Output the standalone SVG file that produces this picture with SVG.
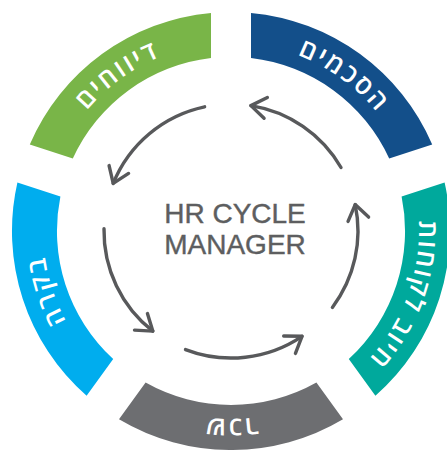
<svg xmlns="http://www.w3.org/2000/svg" width="447" height="450" viewBox="0 0 447 450">
  <defs>
    <style>
      .seg-label { font-family: "Open Sans", "DejaVu Sans", "Liberation Sans", sans-serif; font-size: 26px; font-weight: 600; fill: #ffffff; letter-spacing: 2.5px; }
      .center-text { font-family: "Liberation Sans", Arial, sans-serif; font-size: 28px; fill: #5d5e60; stroke: #5d5e60; stroke-width: 0.4; text-anchor: middle; }
      .arrow { fill: none; stroke: #58595b; stroke-width: 3.4; stroke-linecap: round; marker-end: url(#chev); }
    </style>
    <marker id="chev" markerUnits="userSpaceOnUse" markerWidth="40" markerHeight="40" refX="0" refY="0" orient="auto" overflow="visible" viewBox="-20 -20 40 40">
      <path d="M -15 -10.5 L 0 0 L -15 10.5" fill="none" stroke="#58595b" stroke-width="3.4" stroke-linecap="round" stroke-linejoin="round"/>
    </marker>
    <path id="p-gray" d="M 351.8 375.0 A 188 188 0 0 1 110.2 375.0"/>
    <path id="p-cyan" d="M 131.4 390.4 A 188 188 0 0 1 56.7 160.6"/>
    <path id="p-green" d="M 48.6 185.5 A 188 188 0 0 1 244.1 43.5"/>
    <path id="p-blue" d="M 217.9 43.5 A 188 188 0 0 1 413.4 185.5"/>
    <path id="p-teal" d="M 405.3 160.6 A 188 188 0 0 1 330.6 390.4"/>
  </defs>

  <g id="node-agreements">
    <path d="M 251.0 12.9 A 219 219 0 0 1 432.2 144.6 L 389.2 158.6 A 174 174 0 0 0 251.0 58.1 Z" fill="#134f8a"/>
    <text class="seg-label"><textPath href="#p-blue" startOffset="50%" text-anchor="middle">הסכמים</textPath></text>
  </g>
  <g id="node-reports">
    <path d="M 29.8 144.6 A 219 219 0 0 1 211.0 12.9 L 211.0 58.1 A 174 174 0 0 0 72.8 158.6 Z" fill="#79b548"/>
    <text class="seg-label"><textPath href="#p-green" startOffset="50%" text-anchor="middle">דיווחים</textPath></text>
  </g>
  <g id="node-control">
    <path d="M 86.6 395.7 A 219 219 0 0 1 17.4 182.6 L 60.4 196.6 A 174 174 0 0 0 113.2 359.1 Z" fill="#00adee"/>
    <text class="seg-label"><textPath href="#p-cyan" startOffset="50%" text-anchor="middle">בקרה</textPath></text>
  </g>
  <g id="node-payroll">
    <path d="M 343.0 419.2 A 219 219 0 0 1 119.0 419.2 L 145.6 382.6 A 174 174 0 0 0 316.4 382.6 Z" fill="#6d6e71"/>
    <text class="seg-label"><textPath href="#p-gray" startOffset="50%" text-anchor="middle">שכר</textPath></text>
  </g>
  <g id="node-billing">
    <path d="M 444.6 182.6 A 219 219 0 0 1 375.4 395.7 L 348.8 359.1 A 174 174 0 0 0 401.6 196.6 Z" fill="#00a99c"/>
    <text class="seg-label" style="letter-spacing:2px"><textPath href="#p-teal" startOffset="138" text-anchor="middle">חיוב לקוחות</textPath></text>
  </g>

  <g id="center">
    <text class="center-text" x="235" y="223">HR CYCLE</text>
    <text class="center-text" x="235" y="254">MANAGER</text>
  </g>

  <g id="connectors">
    <path class="arrow" d="M 204.6 106.8 A 127 127 0 0 0 113.2 183.4"/>
    <path class="arrow" d="M 341.0 167.5 A 127 127 0 0 0 250.9 105.6"/>
    <path class="arrow" d="M 332.4 307.4 A 127 127 0 0 0 355.2 204.6"/>
    <path class="arrow" d="M 185.5 349.6 A 127 127 0 0 0 302.0 336.3"/>
    <path class="arrow" d="M 104.0 228.8 A 127 127 0 0 0 152.8 331.1"/>
  </g>
</svg>
